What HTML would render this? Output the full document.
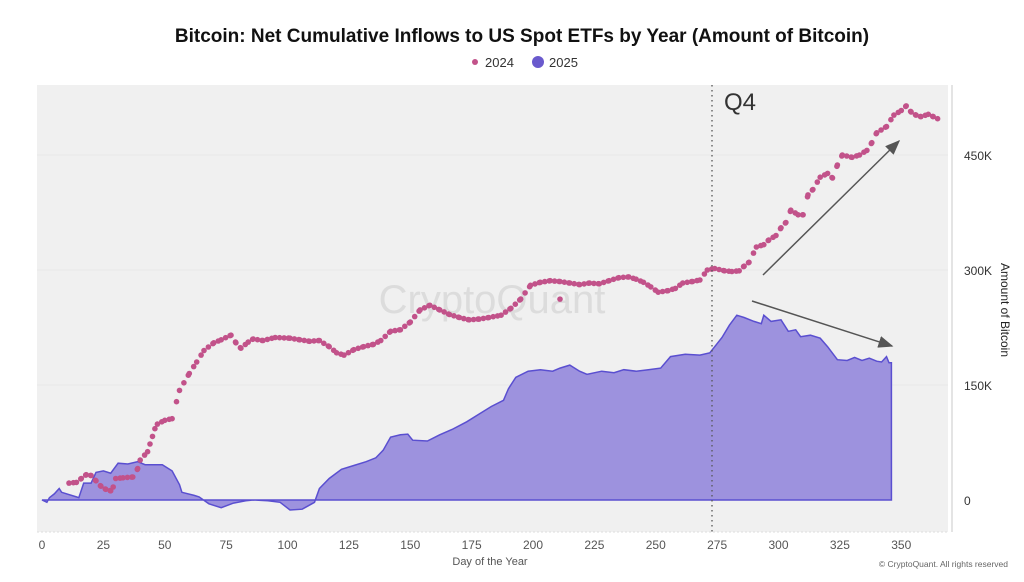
<!DOCTYPE html>
<html><head><meta charset="utf-8"><style>
body{margin:0;background:#fff;font-family:"Liberation Sans",sans-serif;}
</style></head><body>
<svg id="s" width="1024" height="577" viewBox="0 0 1024 577" xmlns="http://www.w3.org/2000/svg" font-family="Liberation Sans, sans-serif">
<rect x="37" y="85" width="911" height="447" fill="#f0f0f0"/>
<line x1="37" y1="155" x2="948" y2="155" stroke="#e8e8e8"/>
<line x1="37" y1="270" x2="948" y2="270" stroke="#e8e8e8"/>
<line x1="37" y1="385" x2="948" y2="385" stroke="#e8e8e8"/>
<line x1="952" y1="85" x2="952" y2="532" stroke="#dcdcdc" stroke-width="1.5"/>
<line x1="37" y1="532" x2="948" y2="532" stroke="#dedede" stroke-dasharray="2,2"/>
<text x="492" y="313" font-size="40" fill="#dcdcdc" text-anchor="middle">CryptoQuant</text>
<g id="area"></g>
<g id="dots"></g>
<line x1="712" y1="85" x2="712" y2="532" stroke="#555" stroke-width="1.3" stroke-dasharray="1.5,3.5"/>
<text x="724" y="110" font-size="24" fill="#333">Q4</text>
<defs><marker id="ah" markerWidth="10" markerHeight="8" refX="9" refY="4" orient="auto"><path d="M0,0 L10,4 L0,8 z" fill="#555"/></marker></defs>
<line x1="763" y1="275" x2="899" y2="141" stroke="#555" stroke-width="1.5" marker-end="url(#ah)"/>
<line x1="752" y1="301" x2="892" y2="346" stroke="#555" stroke-width="1.5" marker-end="url(#ah)"/>
<text x="522" y="42" font-size="19" font-weight="bold" text-anchor="middle" fill="#111">Bitcoin: Net Cumulative Inflows to US Spot ETFs by Year (Amount of Bitcoin)</text>
<circle cx="475" cy="62" r="3" fill="#c2528a"/>
<text x="485" y="67" font-size="13" fill="#333">2024</text>
<circle cx="538" cy="62" r="6" fill="#6a5acd"/>
<text x="549" y="67" font-size="13" fill="#333">2025</text>
<g font-size="12" fill="#333">
<text x="964" y="160">450K</text><text x="964" y="275">300K</text><text x="964" y="390">150K</text><text x="964" y="505">0</text>
</g>
<text transform="translate(1001,310) rotate(90)" font-size="12" fill="#222" text-anchor="middle">Amount of Bitcoin</text>
<g font-size="12" fill="#555" text-anchor="middle" id="xt"></g>
<text x="490" y="565" font-size="11" fill="#555" text-anchor="middle">Day of the Year</text>
<text x="1008" y="567" font-size="8.5" fill="#666" text-anchor="end">© CryptoQuant. All rights reserved</text>
</svg>
<script>
var X=d=>42+2.455*d, Y=v=>500-0.7667*v;
var ns="http://www.w3.org/2000/svg";
var xt=document.getElementById('xt');
for(var t=0;t<=350;t+=25){var e=document.createElementNS(ns,'text');e.setAttribute('x',X(t));e.setAttribute('y',549);e.textContent=t;xt.appendChild(e);}
var a=[[0,0],[2,-3],[3,3],[5,8],[7,15],[8,10],[14,4],[15,3],[17,22],[20,22],[22,36],[25,38],[28,35],[31,48],[35,47],[39,50],[42,46],[49,46],[53,38],[56,20],[57,10],[62,6],[64,4],[68,-5],[73,-10],[78,-4],[83,-1],[86,0],[92,-1],[97,-3],[101,-13],[106,-12],[111,-3],[113,15],[117,28],[122,40],[127,45],[132,50],[136,55],[139,65],[142,82],[146,85],[149,86],[151,78],[157,77],[162,85],[167,92],[173,102],[178,112],[183,122],[188,130],[190,145],[193,160],[198,168],[203,170],[208,168],[211,172],[215,176],[219,168],[222,164],[228,168],[233,166],[237,170],[242,168],[247,170],[252,172],[256,187],[262,190],[268,189],[272,192],[274,200],[277,212],[280,228],[283,241],[286,238],[290,233],[293,230],[294,241],[297,233],[301,235],[304,220],[307,222],[309,213],[313,215],[317,211],[320,200],[324,183],[328,182],[331,186],[334,182],[337,185],[340,181],[342,180],[344,187],[345,179],[346,179]];
var p='M'+X(0)+','+Y(0);a.forEach(q=>p+=' L'+X(q[0]).toFixed(1)+','+Y(q[1]).toFixed(1));p+=' L'+X(346)+','+Y(0)+' Z';
var ar=document.getElementById('area');
var pe=document.createElementNS(ns,'path');pe.setAttribute('d',p);pe.setAttribute('fill','#9d92de');pe.setAttribute('stroke','#5a4fd0');pe.setAttribute('stroke-width','1.5');ar.appendChild(pe);
var b=[[11,22],[14,23],[16,28],[18,33],[20,32],[22,25],[24,18],[26,14],[28,12],[29,17],[30,28],[33,29],[37,30],[39,41],[40,52],[43,63],[44,73],[45,83],[46,93],[47,99],[50,104],[53,106],[56,143],[60,165],[63,180],[66,195],[70,205],[73,209],[77,215],[79,205],[81,198],[84,206],[86,210],[90,208],[95,212],[101,211],[105,209],[109,207],[113,208],[117,200],[120,192],[123,189],[127,196],[131,200],[135,203],[138,208],[142,220],[146,222],[150,232],[154,248],[158,254],[162,248],[166,242],[170,238],[174,235],[178,236],[182,238],[187,241],[191,250],[195,262],[199,280],[203,284],[207,286],[211,285],[215,283],[219,281],[223,283],[227,282],[231,286],[235,290],[239,291],[242,288],[245,284],[248,278],[251,271],[255,273],[258,276],[261,283],[265,285],[268,287],[271,300],[274,302],[278,299],[281,298],[284,299],[286,305],[288,310],[291,330],[294,333],[296,339],[299,345],[301,355],[303,362],[305,378],[308,372],[310,372],[312,398],[314,405],[317,421],[320,426],[322,420],[324,437],[326,450],[330,447],[333,450],[336,456],[338,466],[340,479],[344,487],[347,502],[350,508],[352,514],[354,506],[356,502],[358,500],[361,503],[363,500],[365,497]];
var dg=document.getElementById('dots');
for(var i=0;i<b.length-1;i++){var d0=b[i][0],d1=b[i+1][0];for(var d=d0;d<d1;d+=1.8){var f=(d-d0)/(d1-d0),v=b[i][1]+f*(b[i+1][1]-b[i][1]);var c=document.createElementNS(ns,'circle');c.setAttribute('cx',X(d).toFixed(1));c.setAttribute('cy',Y(v).toFixed(1));c.setAttribute('r',2.8);c.setAttribute('fill','#c2528a');dg.appendChild(c);}}
var c=document.createElementNS(ns,'circle');c.setAttribute('cx',X(211));c.setAttribute('cy',Y(262));c.setAttribute('r',2.8);c.setAttribute('fill','#c2528a');dg.appendChild(c);
</script>
</body></html>
